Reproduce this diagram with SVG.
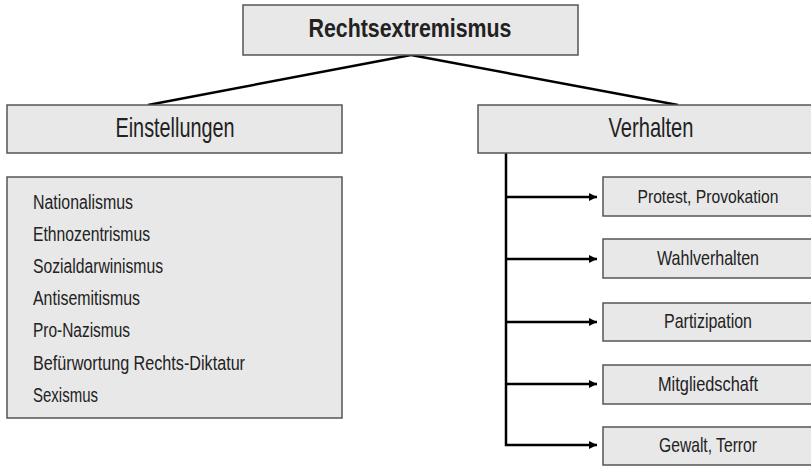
<svg xmlns="http://www.w3.org/2000/svg" width="811" height="466" viewBox="0 0 811 466">
<defs>
<style>
.box{fill:#e8e8e8;stroke:#555;stroke-width:1.5}
.t{font-family:"Liberation Sans","DejaVu Sans",sans-serif;fill:#222}
.c{text-anchor:middle}
.l{font-size:20px}
.s{font-size:21px}
.conn{stroke:#000;stroke-width:2.5;fill:none}
</style>
<marker id="ah" viewBox="0 0 10 10" refX="10" refY="5" markerWidth="8" markerHeight="8" markerUnits="userSpaceOnUse" orient="auto">
<path d="M0,0 L10,5 L0,10 Z" fill="#000"/>
</marker>
</defs>
<rect width="811" height="466" fill="#fff"/>
<g id="connectors">
<line class="conn" x1="411" y1="55" x2="148" y2="105"/>
<line class="conn" x1="411" y1="55" x2="678" y2="105"/>
<polyline class="conn" points="506,153 506,445 597,445" marker-end="url(#ah)"/>
<line class="conn" x1="506" y1="197" x2="597" y2="197" marker-end="url(#ah)"/>
<line class="conn" x1="506" y1="259" x2="597" y2="259" marker-end="url(#ah)"/>
<line class="conn" x1="506" y1="322" x2="597" y2="322" marker-end="url(#ah)"/>
<line class="conn" x1="506" y1="384" x2="597" y2="384" marker-end="url(#ah)"/>
</g>
<g id="rechtsextremismus">
<rect class="box" x="243" y="5" width="335" height="50"/>
<text class="t c" x="410" y="37" font-size="26" font-weight="bold" textLength="203" lengthAdjust="spacingAndGlyphs">Rechtsextremismus</text>
</g>
<g id="einstellungen">
<rect class="box" x="7" y="105" width="335" height="48"/>
<text class="t c" x="175" y="137" font-size="28" textLength="119" lengthAdjust="spacingAndGlyphs">Einstellungen</text>
</g>
<g id="einstellungen-liste">
<rect class="box" x="7" y="177" width="335" height="241"/>
<text class="t l" x="33" y="209" textLength="100" lengthAdjust="spacingAndGlyphs">Nationalismus</text>
<text class="t l" x="33" y="241" textLength="117" lengthAdjust="spacingAndGlyphs">Ethnozentrismus</text>
<text class="t l" x="33" y="273" textLength="130" lengthAdjust="spacingAndGlyphs">Sozialdarwinismus</text>
<text class="t l" x="33" y="305" textLength="107" lengthAdjust="spacingAndGlyphs">Antisemitismus</text>
<text class="t l" x="33" y="337" textLength="97" lengthAdjust="spacingAndGlyphs">Pro-Nazismus</text>
<text class="t l" x="33" y="370" textLength="212" lengthAdjust="spacingAndGlyphs">Befürwortung Rechts-Diktatur</text>
<text class="t l" x="33" y="402" textLength="65" lengthAdjust="spacingAndGlyphs">Sexismus</text>
</g>
<g id="verhalten">
<path class="box" d="M811,105 H478 V153 H811"/>
<text class="t c" x="651" y="137" font-size="28" textLength="85" lengthAdjust="spacingAndGlyphs">Verhalten</text>
</g>
<g id="protest">
<path class="box" d="M811,177 H603 V216 H811"/>
<text class="t c" x="708" y="203" font-size="19" textLength="141" lengthAdjust="spacingAndGlyphs">Protest, Provokation</text>
</g>
<g id="wahlverhalten">
<path class="box" d="M811,239 H603 V278 H811"/>
<text class="t c s" x="708" y="265" textLength="102" lengthAdjust="spacingAndGlyphs">Wahlverhalten</text>
</g>
<g id="partizipation">
<path class="box" d="M811,303 H603 V341 H811"/>
<text class="t c s" x="708" y="328" textLength="88" lengthAdjust="spacingAndGlyphs">Partizipation</text>
</g>
<g id="mitgliedschaft">
<path class="box" d="M811,365 H603 V404 H811"/>
<text class="t c s" x="708" y="391" textLength="100" lengthAdjust="spacingAndGlyphs">Mitgliedschaft</text>
</g>
<g id="gewalt">
<path class="box" d="M811,427 H603 V465 H811"/>
<text class="t c s" x="708" y="452" textLength="98" lengthAdjust="spacingAndGlyphs">Gewalt, Terror</text>
</g>
</svg>
